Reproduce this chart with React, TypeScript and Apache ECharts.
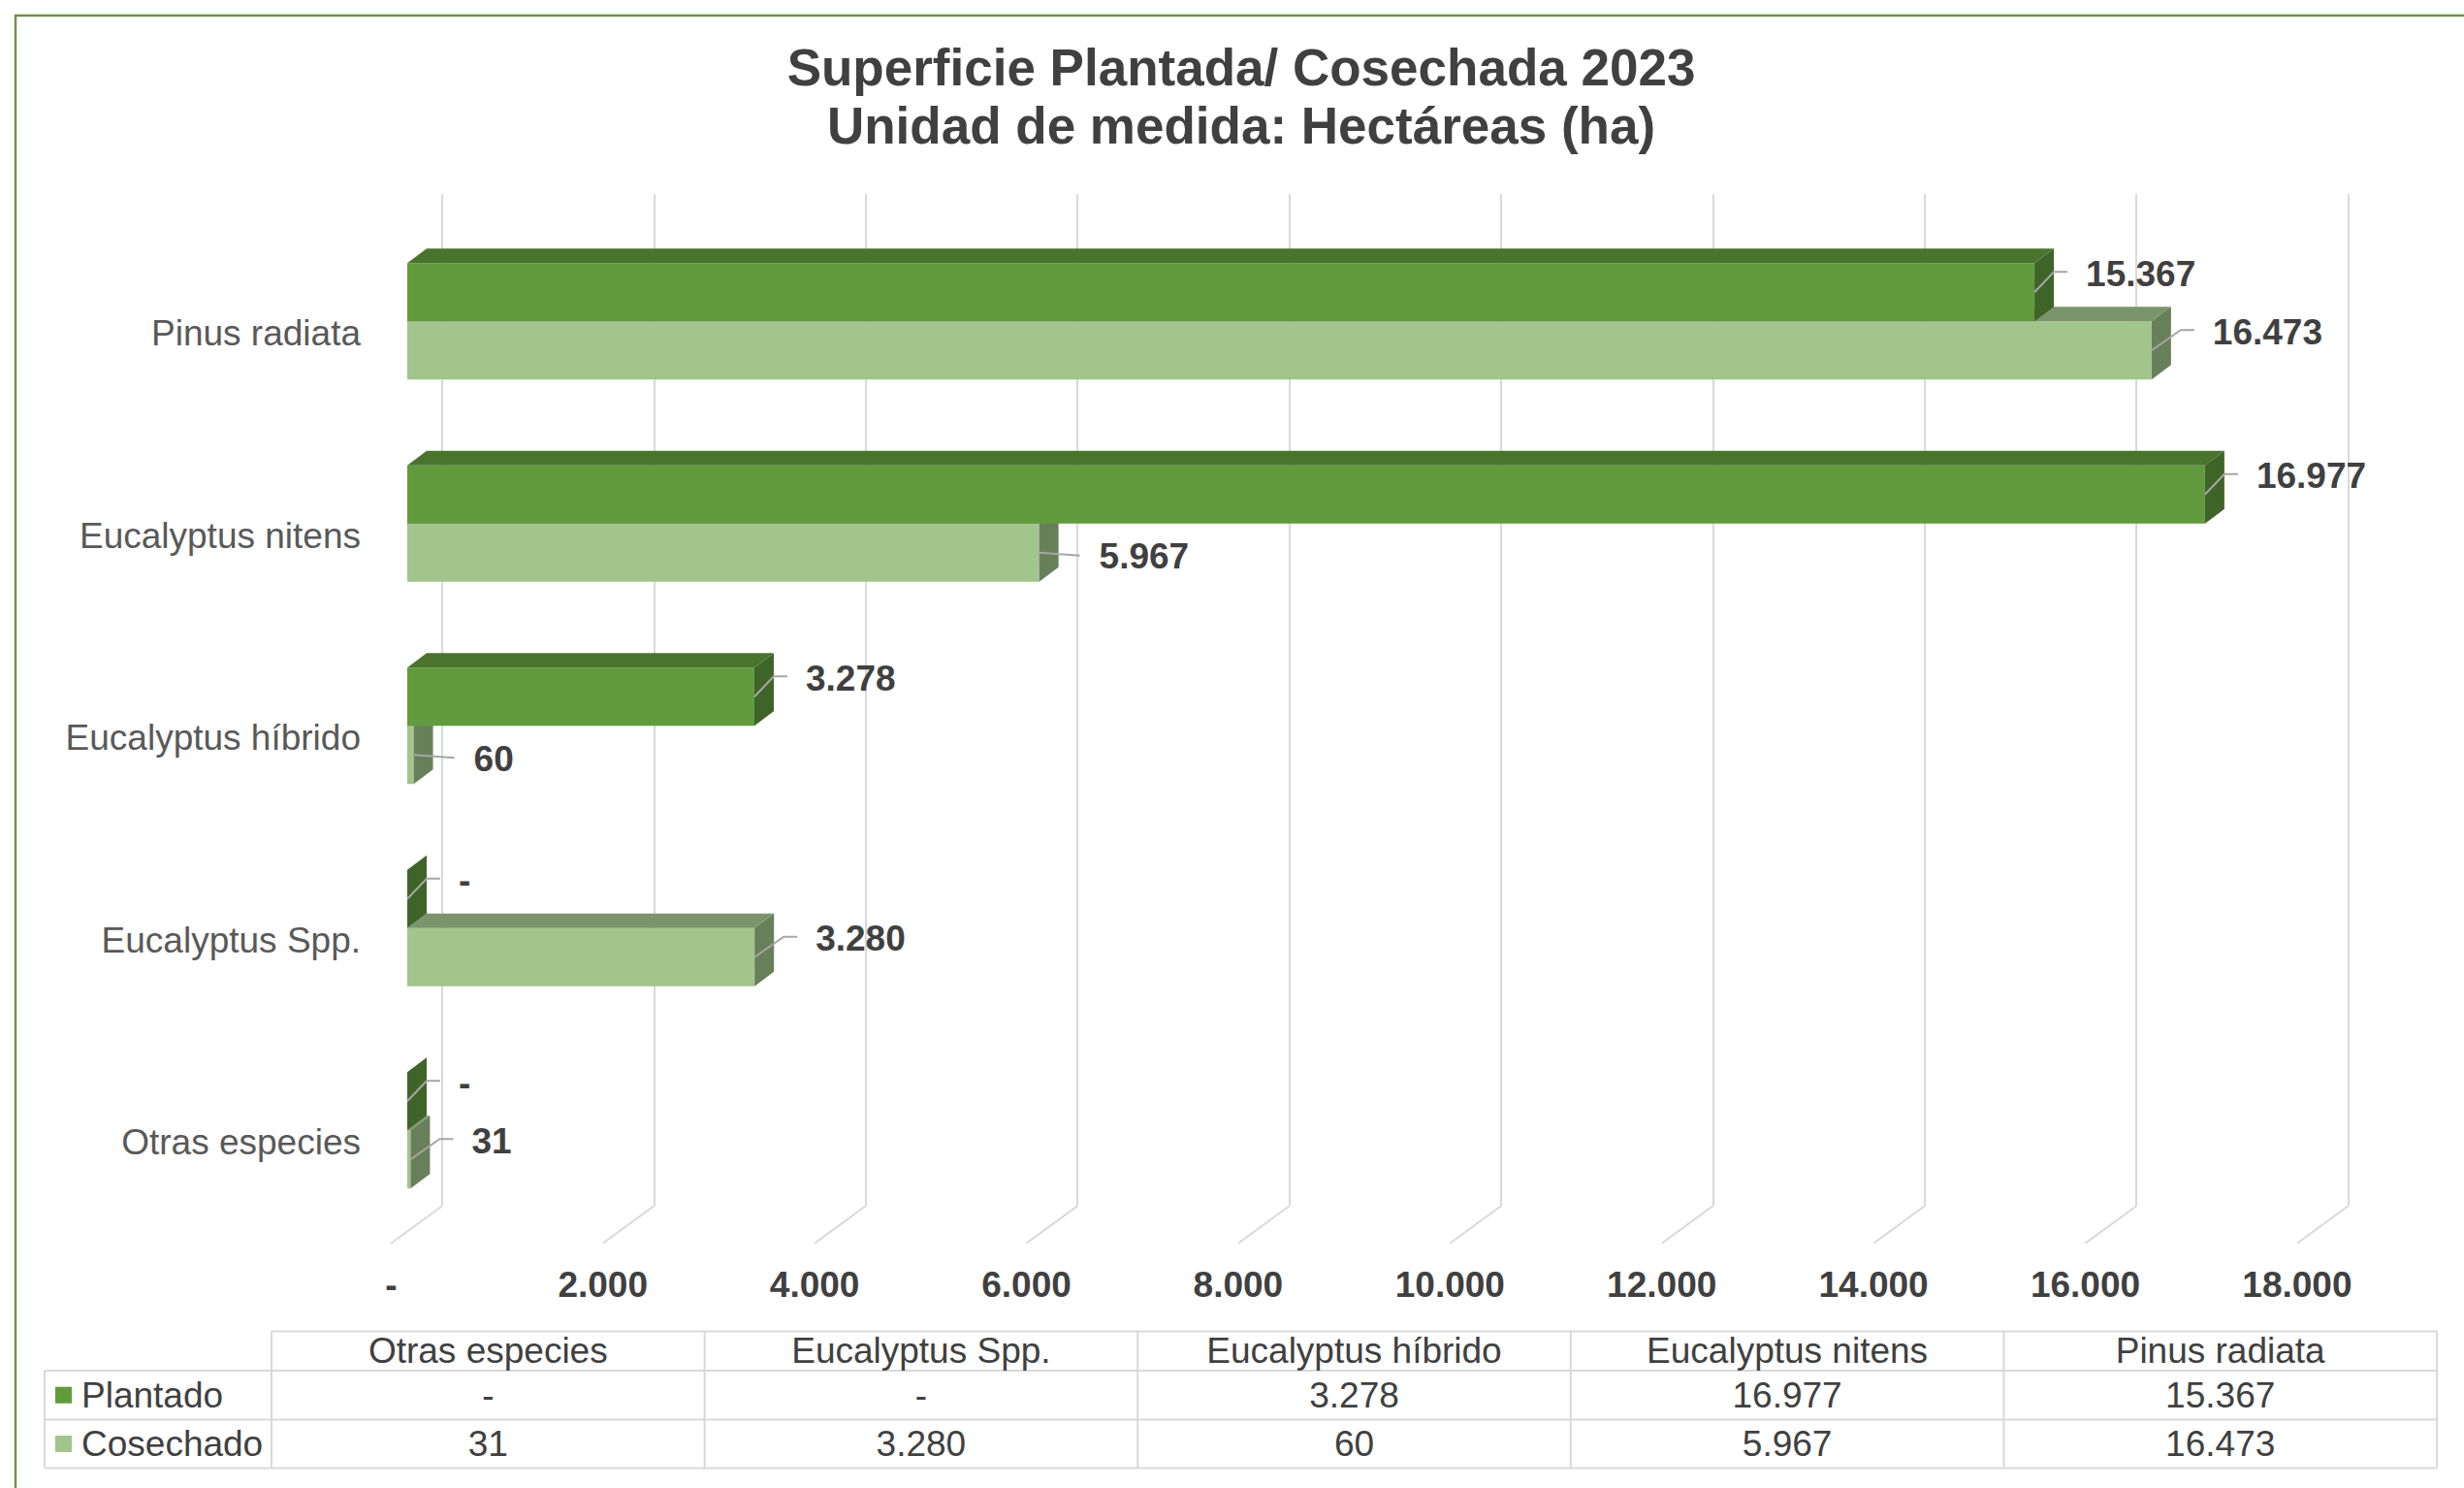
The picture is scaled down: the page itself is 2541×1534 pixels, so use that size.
import React, { useEffect, useRef } from "react";
import * as echarts from "echarts";

// ---------- data ----------
const titleLines = ["Superficie Plantada/ Cosechada 2023", "Unidad de medida: Hectáreas (ha)"];
const categories = ["Otras especies", "Eucalyptus Spp.", "Eucalyptus híbrido", "Eucalyptus nitens", "Pinus radiata"];
const seriesNames = ["Plantado", "Cosechado"];
const plantado = [0, 0, 3278, 16977, 15367];
const cosechado = [31, 3280, 60, 5967, 16473];
const xTicks = [0, 2000, 4000, 6000, 8000, 10000, 12000, 14000, 16000, 18000];
const X_MAX = 18000;
const X_INTERVAL = 2000;

// ---------- styles / geometry ----------
const FONT = "'Liberation Sans', Arial, sans-serif";
const TEXT_DARK = "#404040";
const TEXT_CAT = "#595959";
const GRID_COLOR = "#d9d9d9";
const LEADER_COLOR = "#a6a6a6";
const FACE_COLORS = [
  { front: "#629a3e", top: "#4a742d", side: "#3f6428" },
  { front: "#a2c58e", top: "#7a956d", side: "#68805a" },
];
const BAR_FRAC = 0.2878; // bar thickness relative to category band
const BDX = 20; // bar depth projection
const BDY = -15;
const FLOOR_DX = 52.7; // floor depth projection
const FLOOR_DY = -38.4;

const fmt = (v: number) => (v === 0 ? "-" : String(v).replace(/\B(?=(\d{3})+(?!\d))/g, "."));

export default function App() {
  const ref = useRef<HTMLDivElement>(null);

  useEffect(() => {
    if (!ref.current) return;
    const chart = echarts.init(ref.current, undefined, { renderer: "svg" });
    const values = [plantado, cosechado];

    const makeBarSeries = (si: number) => ({
      type: "custom",
      name: seriesNames[si],
      xAxisIndex: 0,
      yAxisIndex: 0,
      clip: false,
      data: values[si].map((v, i) => [v, i]),
      encode: { x: 0, y: 1 },
      renderItem: (params: any, api: any) => {
        const v = api.value(0);
        const ci = api.value(1);
        const idx = params.dataIndex;
        const start = api.coord([0, ci]);
        const end = api.coord([v, ci]);
        const band = api.size([0, 1])[1];
        const h = band * BAR_FRAC;
        const y0 = si === 0 ? start[1] - h : start[1];
        const y1 = y0 + h;
        const x0 = start[0];
        const x1 = end[0];
        const c = FACE_COLORS[si];
        const yc = (y0 + y1) / 2;
        const other = values[1 - si][idx];
        const level = si === 1 && other > v;
        const tx = level ? x1 + 62 : si === 0 ? x1 + 53 : x1 + 63;
        const leader = level
          ? [[x1, yc], [tx - 20, yc + 3]]
          : [[x1, yc], [tx - 33, yc - 21], [tx - 19, yc - 21]];
        const ty = level ? yc + 4 : yc - 19;
        return {
          type: "group",
          children: [
            { type: "rect", shape: { x: x0, y: y0, width: Math.max(x1 - x0, 0), height: h }, style: { fill: c.front } },
            {
              type: "polygon",
              shape: { points: [[x0, y0], [x0 + BDX, y0 + BDY], [x1 + BDX, y0 + BDY], [x1, y0]] },
              style: { fill: c.top },
            },
            {
              type: "polygon",
              shape: { points: [[x1, y0], [x1 + BDX, y0 + BDY], [x1 + BDX, y1 + BDY], [x1, y1]] },
              style: { fill: c.side },
            },
            { type: "polyline", shape: { points: leader }, style: { stroke: LEADER_COLOR, lineWidth: 2, fill: "none" } },
            {
              type: "text",
              x: tx,
              y: ty,
              style: {
                text: fmt(v),
                fill: TEXT_DARK,
                fontSize: 37,
                fontWeight: "bold",
                fontFamily: FONT,
                align: "left",
                verticalAlign: "middle",
              },
            },
          ],
        };
      },
    });

    const floorSeries = {
      type: "custom",
      xAxisIndex: 1,
      yAxisIndex: 1,
      clip: false,
      silent: true,
      data: xTicks.map((v) => [v, 0]),
      renderItem: (_p: any, api: any) => {
        const p = api.coord([api.value(0), 0]);
        return {
          type: "line",
          shape: { x1: p[0], y1: p[1], x2: p[0] + FLOOR_DX, y2: p[1] + FLOOR_DY },
          style: { stroke: GRID_COLOR, lineWidth: 2 },
        };
      },
    };

    // ---------- data table ----------
    const TABLE_LEFT = 280;
    const COL_W = 446.6;
    const LEGEND_LEFT = 46;
    const rowY = [1372.6, 1413, 1463.4, 1513.6];
    const colX = (i: number) => TABLE_LEFT + i * COL_W;
    const tline = (x1: number, y1: number, x2: number, y2: number) => ({
      type: "line",
      shape: { x1, y1, x2, y2 },
      style: { stroke: GRID_COLOR, lineWidth: 2 },
    });
    const ttext = (text: string, x: number, y: number, align = "center") => ({
      type: "text",
      x,
      y,
      style: { text, fill: TEXT_DARK, fontSize: 37, fontFamily: FONT, align, verticalAlign: "middle" },
    });
    const table: any[] = [];
    table.push(tline(colX(0), rowY[0], colX(categories.length), rowY[0]));
    for (let r = 1; r < rowY.length; r++) table.push(tline(LEGEND_LEFT, rowY[r], colX(categories.length), rowY[r]));
    table.push(tline(LEGEND_LEFT, rowY[1], LEGEND_LEFT, rowY[3]));
    for (let i = 0; i <= categories.length; i++) table.push(tline(colX(i), rowY[0], colX(i), rowY[3]));
    categories.forEach((cat, i) => table.push(ttext(cat, colX(i) + COL_W / 2, (rowY[0] + rowY[1]) / 2)));
    seriesNames.forEach((name, s) => {
      const cy = (rowY[s + 1] + rowY[s + 2]) / 2;
      table.push({ type: "rect", shape: { x: 57, y: cy - 8.5, width: 17, height: 17 }, style: { fill: FACE_COLORS[s].front } });
      table.push(ttext(name, 84, cy, "left"));
      values[s].forEach((v, i) => table.push(ttext(fmt(v), colX(i) + COL_W / 2, cy)));
    });

    const option: any = {
      animation: false,
      backgroundColor: "#ffffff",
      textStyle: { fontFamily: FONT },
      grid: [
        { left: 420, top: 227, width: 1965.6, height: 1042.5 },
        { left: 403.3, top: 227, width: 1965.6, height: 1054.7 },
        { left: 456, top: 200, width: 1965.6, height: 1043.3 },
        { left: 420, top: 239.5, width: 1965.6, height: 1042.5 },
      ],
      xAxis: [
        { gridIndex: 0, type: "value", min: 0, max: X_MAX, interval: X_INTERVAL, show: false },
        {
          gridIndex: 1,
          type: "value",
          min: 0,
          max: X_MAX,
          interval: X_INTERVAL,
          axisLine: { show: false },
          axisTick: { show: false },
          splitLine: { show: false },
          axisLabel: {
            formatter: (v: number) => fmt(v),
            fontSize: 37,
            fontWeight: "bold",
            color: TEXT_DARK,
            fontFamily: FONT,
            margin: 24,
          },
        },
        {
          gridIndex: 2,
          type: "value",
          min: 0,
          max: X_MAX,
          interval: X_INTERVAL,
          axisLine: { show: false },
          axisTick: { show: false },
          axisLabel: { show: false },
          splitLine: { show: true, lineStyle: { color: GRID_COLOR, width: 2 } },
        },
        { gridIndex: 3, type: "value", min: 0, max: X_MAX, interval: X_INTERVAL, show: false },
      ],
      yAxis: [
        {
          gridIndex: 0,
          type: "category",
          data: categories,
          show: false,
        },
        { gridIndex: 1, type: "value", min: 0, max: 1, show: false, splitLine: { show: false } },
        { gridIndex: 2, type: "value", min: 0, max: 1, show: false, splitLine: { show: false } },
        {
          gridIndex: 3,
          type: "category",
          data: categories,
          axisLine: { show: false },
          axisTick: { show: false },
          splitLine: { show: false },
          axisLabel: {
            fontSize: 37,
            color: TEXT_CAT,
            fontFamily: FONT,
            margin: 48,
          },
        },
      ],
      graphic: [
        {
          type: "rect",
          z: -10,
          shape: { x: 16, y: 16, width: 3000, height: 3000 },
          style: { fill: "none", stroke: "#6f8f4f", lineWidth: 2.5 },
        },
        ...titleLines.map((t, i) => ({
          type: "text",
          x: 1280,
          y: 69.7 + i * 60,
          style: {
            text: t,
            fill: TEXT_DARK,
            fontSize: 53,
            fontWeight: "bold",
            fontFamily: FONT,
            align: "center",
            verticalAlign: "middle",
          },
        })),
        ...table,
      ],
      series: [floorSeries, makeBarSeries(1), makeBarSeries(0)],
    };

    chart.setOption(option);
    return () => chart.dispose();
  }, []);

  return (
    <div
      ref={ref}
      style={{ position: "fixed", left: 0, top: 0, width: 2541, height: 1534, background: "#ffffff" }}
    />
  );
}
